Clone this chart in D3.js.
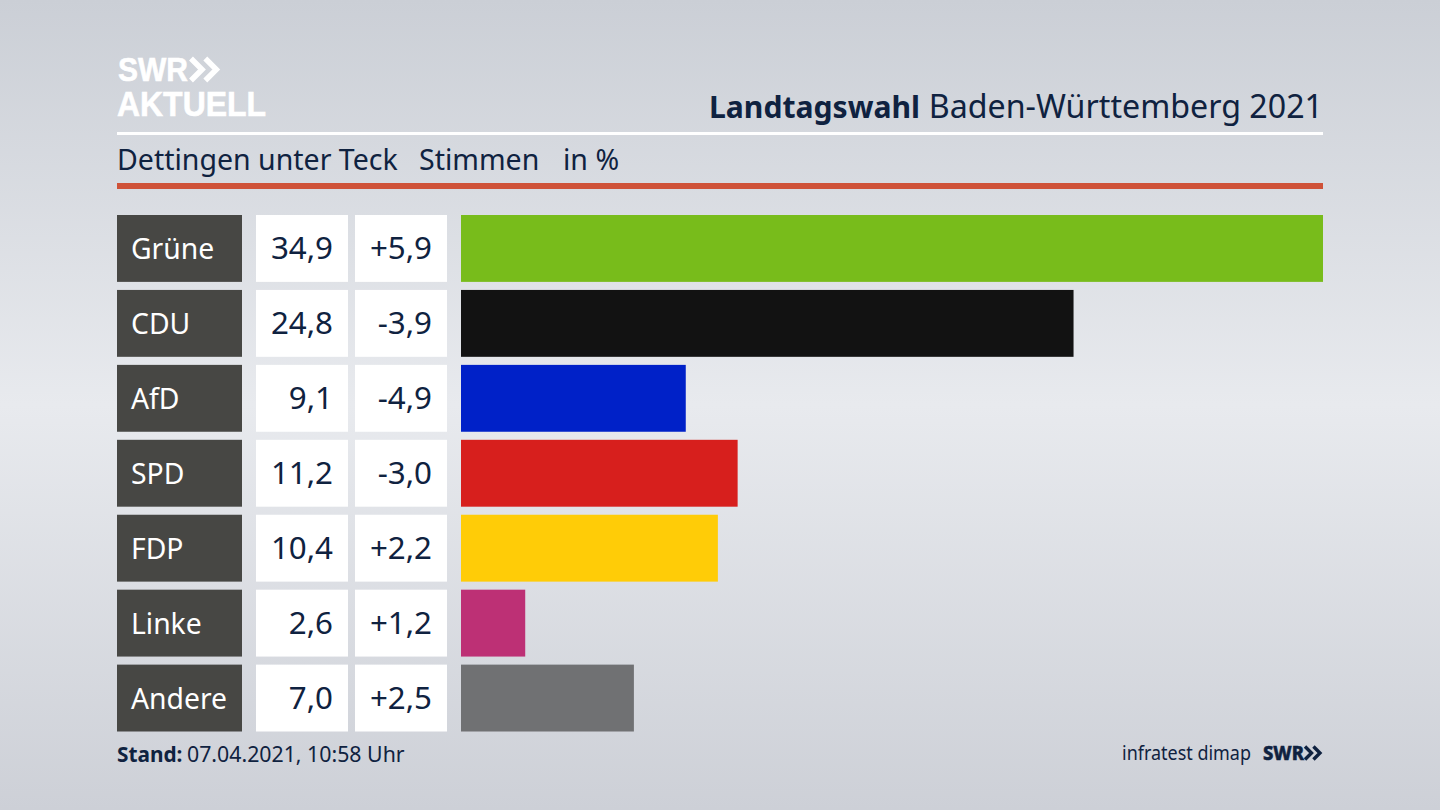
<!DOCTYPE html>
<html lang="de">
<head>
<meta charset="utf-8">
<title>Landtagswahl Baden-Württemberg 2021</title>
<script src="https://cdn.jsdelivr.net/npm/d3@7"></script>
<style>
  html, body { margin: 0; padding: 0; background: #d9dce2; }
  svg { display: block; font-family: "Noto Sans", sans-serif; }
</style>
</head>
<body>
<svg id="chart" width="1440" height="810"></svg>
<script>
const parties = ['Grüne', 'CDU', 'AfD', 'SPD', 'FDP', 'Linke', 'Andere'];
const shares = [34.9, 24.8, 9.1, 11.2, 10.4, 2.6, 7.0];
const shareLabels = ['34,9', '24,8', '9,1', '11,2', '10,4', '2,6', '7,0'];
const changeLabels = ['+5,9', '-3,9', '-4,9', '-3,0', '+2,2', '+1,2', '+2,5'];
const barColors = ['#78bc1b', '#121212', '#0021c8', '#d71f1d', '#ffcc07', '#bd3075', '#707173'];

const navy = '#0f2240';
const svg = d3.select('#chart');

// background: light band across the middle
const defs = svg.append('defs');
const band = defs.append('linearGradient').attr('id', 'bg')
  .attr('x1', 0).attr('y1', 0).attr('x2', 0).attr('y2', 1);
band.append('stop').attr('offset', '0%').attr('stop-color', '#cbcfd6');
band.append('stop').attr('offset', '50%').attr('stop-color', '#e8eaee');
band.append('stop').attr('offset', '100%').attr('stop-color', '#cdd0d7');
svg.append('rect').attr('width', 1440).attr('height', 810).attr('fill', 'url(#bg)');

// scales
const y = d3.scaleBand().domain(parties).range([215, 731.5]).paddingInner(0.1075).paddingOuter(0);
const x = d3.scaleLinear().domain([0, 34.9]).range([461, 1323]);

function chevrons(g, px, py, h, color, weight) {
  [0, h * 0.65].forEach(dx => {
    g.append('path')
      .attr('d', `M${px + dx} ${py}L${px + dx + h * 0.5} ${py + h / 2}L${px + dx} ${py + h}`)
      .attr('fill', 'none').attr('stroke', color).attr('stroke-width', weight);
  });
}

// logo
const logo = svg.append('g').attr('fill', '#fff').attr('font-weight', 700)
  .attr('font-family', '"Liberation Sans", sans-serif');
logo.append('text').attr('x', 118).attr('y', 81).attr('font-size', 33)
  .attr('stroke', '#fff').attr('stroke-width', 0.6)
  .attr('textLength', 70).attr('lengthAdjust', 'spacingAndGlyphs').text('SWR');
chevrons(logo, 191, 58.5, 22, '#fff', 5.5);
logo.append('text').attr('x', 117).attr('y', 116).attr('font-size', 34.5)
  .attr('stroke', '#fff').attr('stroke-width', 0.6)
  .attr('textLength', 149).attr('lengthAdjust', 'spacingAndGlyphs').text('AKTUELL');

// header
const title = svg.append('g').attr('fill', navy);
title.append('text').attr('x', 709).attr('y', 118).attr('font-size', 30.5).attr('font-weight', 700)
  .attr('textLength', 211).attr('lengthAdjust', 'spacingAndGlyphs').text('Landtagswahl');
title.append('text').attr('x', 1323).attr('y', 118).attr('text-anchor', 'end')
  .attr('font-size', 32.2).text('Baden-Württemberg 2021');
svg.append('rect').attr('x', 117).attr('y', 132).attr('width', 1206).attr('height', 3).attr('fill', '#fff');
const sub = svg.append('g').attr('font-size', 28.5).attr('fill', navy);
sub.append('text').attr('x', 117).attr('y', 170).text('Dettingen unter Teck');
sub.append('text').attr('x', 419).attr('y', 170).text('Stimmen');
sub.append('text').attr('x', 563).attr('y', 170).text('in %');
svg.append('rect').attr('x', 117).attr('y', 183).attr('width', 1206).attr('height', 6).attr('fill', '#cf5238');

// rows
const rows = svg.append('g').selectAll('g').data(parties).join('g')
  .attr('transform', d => `translate(0,${y(d)})`);
const h = y.bandwidth();

rows.append('rect').attr('x', 117).attr('width', 125).attr('height', h).attr('fill', '#474744');
rows.append('rect').attr('x', 256).attr('width', 92).attr('height', h).attr('fill', '#fff');
rows.append('rect').attr('x', 355).attr('width', 92).attr('height', h).attr('fill', '#fff');
rows.append('rect').attr('x', x(0)).attr('height', h)
  .attr('width', (d, i) => x(shares[i]) - x(0))
  .attr('fill', (d, i) => barColors[i]);

rows.append('text').attr('x', 131).attr('y', h / 2 + 10.7)
  .attr('font-size', 28.3).attr('fill', '#fff').text(d => d);
rows.append('text').attr('x', 333).attr('y', h / 2 + 11).attr('text-anchor', 'end')
  .attr('font-size', 31.3).attr('fill', navy).text((d, i) => shareLabels[i]);
rows.append('text').attr('x', 432).attr('y', h / 2 + 11).attr('text-anchor', 'end')
  .attr('font-size', 31.3).attr('fill', navy).text((d, i) => changeLabels[i]);

// footer
const stand = svg.append('g').attr('fill', navy);
stand.append('text').attr('x', 117).attr('y', 761.5).attr('font-size', 20.8).attr('font-weight', 700).text('Stand:');
stand.append('text').attr('x', 187).attr('y', 761.5).attr('font-size', 21.3).text('07.04.2021, 10:58 Uhr');
svg.append('text').attr('x', 1122).attr('y', 760).attr('font-size', 20).attr('fill', navy)
  .attr('textLength', 129).attr('lengthAdjust', 'spacingAndGlyphs').text('infratest dimap');
const foot = svg.append('g');
foot.append('text').attr('x', 1263).attr('y', 760).attr('font-size', 20).attr('font-weight', 800)
  .attr('fill', navy).attr('stroke', navy).attr('stroke-width', 0.5)
  .attr('textLength', 41).attr('lengthAdjust', 'spacingAndGlyphs').text('SWR');
chevrons(foot, 1305, 746.5, 13, navy, 3.4);
</script>
</body>
</html>
